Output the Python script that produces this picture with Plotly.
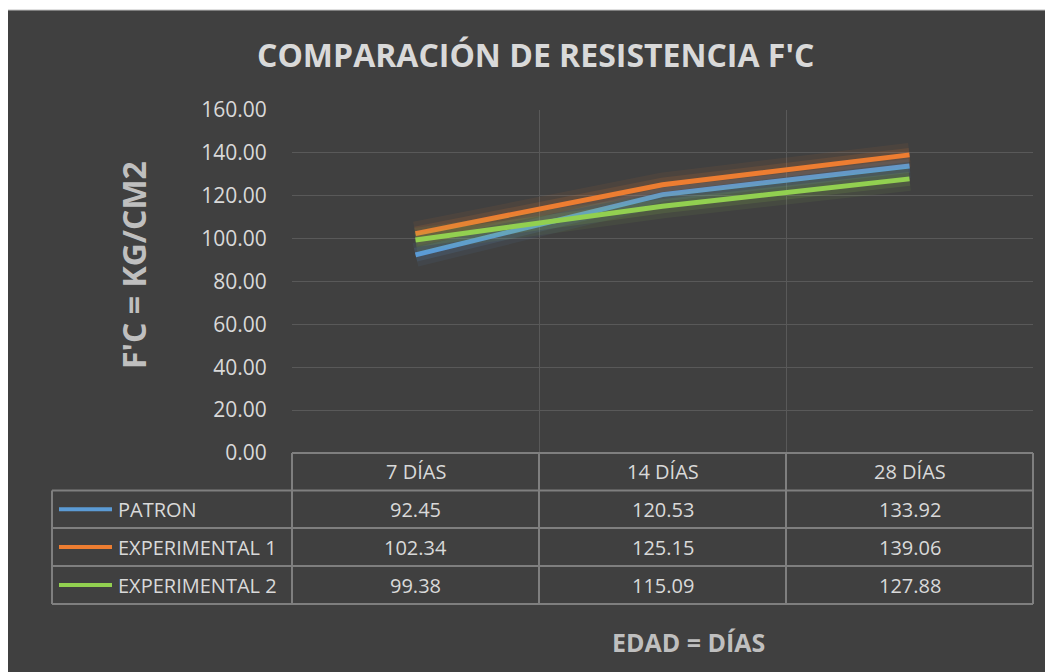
import plotly.graph_objects as go

# page body adds an 8px margin, so the figure is drawn 8px smaller and shifted
OFF = 8
W, H = 1053 - OFF, 672 - OFF
BG = "#404040"
TEXT = "#d9d9d9"
AXIS_TEXT = "#bfbfbf"
GRID = "#595959"
TABLE_LINE = "#7f7f7f"
FONT = "Open Sans, Noto Sans, sans-serif"

AGES = ["7 DÍAS", "14 DÍAS", "28 DÍAS"]
SERIES = ["PATRON", "EXPERIMENTAL 1", "EXPERIMENTAL 2"]
PATRON = [92.45, 120.53, 133.92]
EXPERIMENTAL_1 = [102.34, 125.15, 139.06]
EXPERIMENTAL_2 = [99.38, 115.09, 127.88]
COLORS = ["#5b9bd5", "#ed7d31", "#92d050"]
Y_TICKS = [0, 20, 40, 60, 80, 100, 120, 140, 160]

# plot area in page pixels
PL, PR, PT, PB = 292, 1033, 110, 453


def xp(px):
    return (px - PL) / (PR - PL)


def yp(py):
    return (PB - py) / (PB - PT)


fig = go.Figure()
values = [PATRON, EXPERIMENTAL_1, EXPERIMENTAL_2]

for name, vals, color in zip(SERIES, values, COLORS):
    # soft glow under each line
    for width, alpha in [(24, 0.07), (14, 0.12)]:
        fig.add_trace(go.Scatter(x=AGES, y=vals, mode="lines", opacity=alpha,
                                 line={"color": color, "width": width},
                                 hoverinfo="skip", showlegend=False))
    fig.add_trace(go.Scatter(x=AGES, y=vals, mode="lines", name=name,
                             line={"color": color, "width": 5}, showlegend=False))

shapes = [
    # chart background frame
    dict(type="rect", xref="paper", yref="paper", x0=xp(6), x1=xp(1070),
         y0=yp(10), y1=yp(690), fillcolor=BG, line={"color": "#bfbfbf", "width": 1},
         layer="below"),
]

# data table grid
row_edges = [453, 490.5, 528, 566, 604]
col_edges = [52, 292, 539, 786, 1033]
line = {"color": TABLE_LINE, "width": 2}
shapes.append(dict(type="line", xref="paper", yref="paper", x0=xp(292), x1=xp(1033),
                   y0=yp(row_edges[0]), y1=yp(row_edges[0]), line=line))
for ry in row_edges[1:]:
    shapes.append(dict(type="line", xref="paper", yref="paper", x0=xp(52), x1=xp(1033),
                       y0=yp(ry), y1=yp(ry), line=line))
shapes.append(dict(type="line", xref="paper", yref="paper", x0=xp(52), x1=xp(52),
                   y0=yp(row_edges[1]), y1=yp(row_edges[-1]), line=line))
for cx in col_edges[1:]:
    shapes.append(dict(type="line", xref="paper", yref="paper", x0=xp(cx), x1=xp(cx),
                       y0=yp(row_edges[0]), y1=yp(row_edges[-1]), line=line))


def label(text, x, y, size, color, xref="paper", xanchor="center", angle=0):
    return dict(text=text, xref=xref, yref="paper", x=x, y=y, xanchor=xanchor,
                yanchor="middle", textangle=angle, showarrow=False,
                font={"size": size, "color": color})


annotations = [
    label("<b>COMPARACIÓN DE RESISTENCIA F'C</b>", xp(535), yp(55), 32, TEXT),
    label("<b>F'C = KG/CM2</b>", xp(133), yp(265), 32, AXIS_TEXT, angle=-90),
    label("<b>EDAD = DÍAS</b>", xp(688), yp(642), 25, AXIS_TEXT),
]

header_y = (row_edges[0] + row_edges[1]) / 2
for age in AGES:
    annotations.append(label(age, age, yp(header_y), 20, TEXT, xref="x"))

for i, (name, vals, color) in enumerate(zip(SERIES, values, COLORS)):
    cy = (row_edges[i + 1] + row_edges[i + 2]) / 2
    shapes.append(dict(type="line", xref="paper", yref="paper", x0=xp(59), x1=xp(112),
                       y0=yp(cy), y1=yp(cy), line={"color": color, "width": 4}))
    annotations.append(label(name, xp(116), yp(cy), 20, TEXT, xanchor="left"))
    for age, v in zip(AGES, vals):
        annotations.append(label(f"{v:.2f}", age, yp(cy), 20, TEXT, xref="x"))

fig.update_layout(
    width=W, height=H,
    paper_bgcolor="white",
    plot_bgcolor="rgba(0,0,0,0)",
    font={"family": FONT, "color": TEXT},
    margin={"l": PL - OFF, "r": 1053 - PR, "t": PT - OFF, "b": 672 - PB, "pad": 0},
    shapes=shapes,
    annotations=annotations,
    showlegend=False,
)
fig.update_xaxes(range=[-0.5, 2.5], tickson="boundaries", showgrid=True, gridcolor=GRID,
                 gridwidth=1, showticklabels=False, ticks="", showline=False, zeroline=False)
fig.update_yaxes(range=[0, 160], tickvals=Y_TICKS, tickformat=".2f", showgrid=True,
                 gridcolor=GRID, gridwidth=1, zeroline=False, showline=False,
                 ticks="outside", ticklen=20, tickcolor="rgba(0,0,0,0)",
                 tickfont={"size": 21, "color": TEXT})

fig.write_html("out.html")
